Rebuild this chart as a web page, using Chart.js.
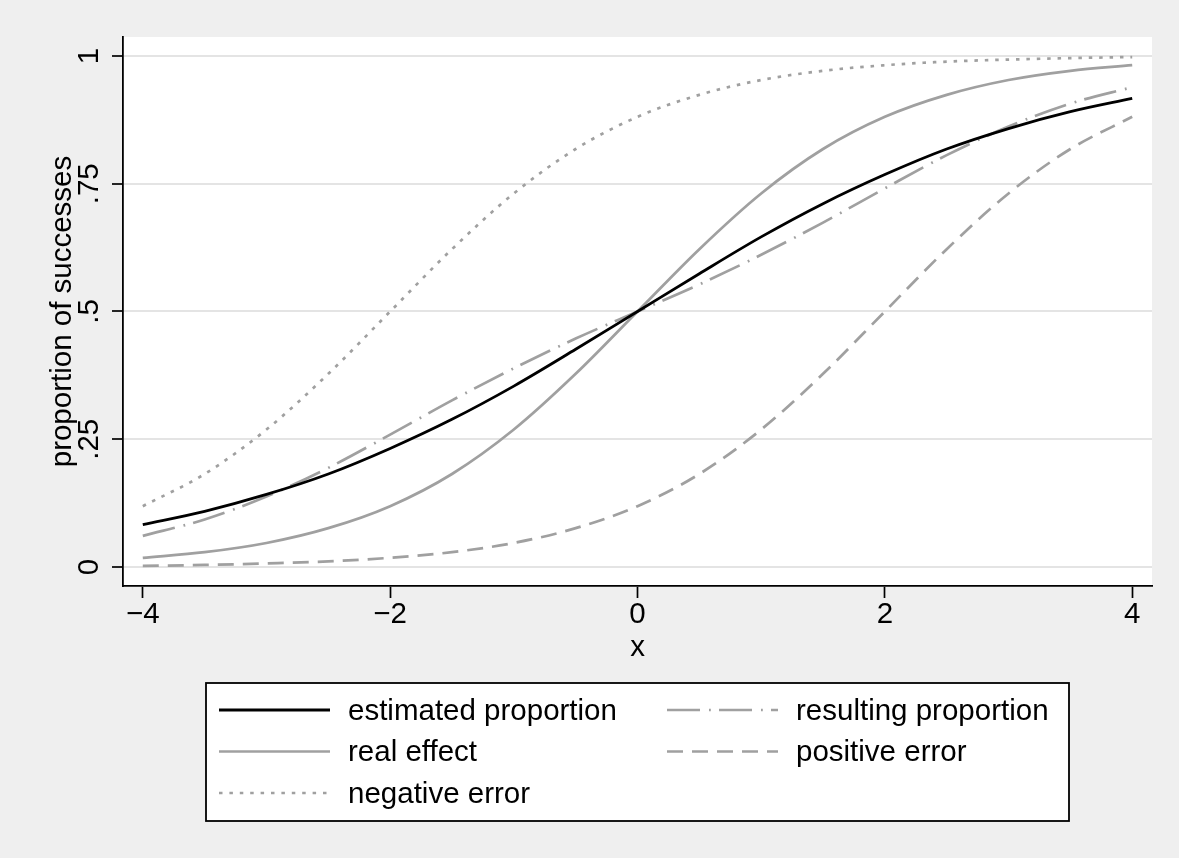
<!DOCTYPE html>
<html>
<head>
<meta charset="utf-8">
<script src="https://cdn.jsdelivr.net/npm/chart.js@4.4.1/dist/chart.umd.min.js"></script>
<style>
  html, body { margin: 0; padding: 0; background: #efefef; }
  #wrap { width: 1179px; height: 858px; position: relative; }
</style>
</head>
<body>
<div id="wrap"><canvas id="chart"></canvas></div>
<script>
/* ─────────────────────────────────────────────
   Data
───────────────────────────────────────────── */
const xValues = [-4, -3.5, -3, -2.5, -2, -1.5, -1, -0.5, 0, 0.5, 1, 1.5, 2, 2.5, 3, 3.5, 4];

const estimated     = [0.083, 0.109, 0.142, 0.182, 0.232, 0.289, 0.354, 0.426, 0.5, 0.574, 0.646, 0.711, 0.768, 0.818, 0.858, 0.891, 0.917];
const resulting     = [0.061, 0.093, 0.138, 0.194, 0.259, 0.326, 0.389, 0.447, 0.5, 0.553, 0.611, 0.674, 0.741, 0.806, 0.862, 0.907, 0.939];
const realEffect    = [0.018, 0.029, 0.047, 0.076, 0.119, 0.182, 0.269, 0.378, 0.5, 0.622, 0.731, 0.818, 0.881, 0.924, 0.953, 0.971, 0.982];
const positiveError = [0.002, 0.004, 0.007, 0.011, 0.018, 0.029, 0.047, 0.076, 0.119, 0.182, 0.269, 0.378, 0.5, 0.622, 0.731, 0.818, 0.881];
const negativeError = [0.119, 0.182, 0.269, 0.378, 0.5, 0.622, 0.731, 0.818, 0.881, 0.924, 0.953, 0.971, 0.982, 0.989, 0.993, 0.996, 0.998];

const seriesLabels = ['estimated proportion', 'resulting proportion', 'real effect', 'positive error', 'negative error'];

const xTicks = [-4, -2, 0, 2, 4];
const xTickLabels = ['\u22124', '\u22122', '0', '2', '4'];
const yTicks = [0, 0.25, 0.5, 0.75, 1];
const yTickLabels = ['0', '.25', '.5', '.75', '1'];

/* ─────────────────────────────────────────────
   Styles
───────────────────────────────────────────── */
const fontFamily = '"Liberation Sans", Arial, sans-serif';
const fontSize = 29.5;
const grey = '#a0a0a0';
const colors = {
  bg: '#efefef',
  plot: '#ffffff',
  grid: '#e4e4e4',
  axis: '#000000',
};

const lineStyles = [
  { color: '#000000', width: 2.8, dash: [] },
  { color: grey, width: 2.7, dash: [33, 9, 1.8, 8.2] },
  { color: grey, width: 2.7, dash: [] },
  { color: grey, width: 2.7, dash: [16, 9] },
  { color: grey, width: 2.7, dash: [3.5, 6.9] },
];

const toPoints = (ys) => xValues.map((x, i) => ({ x, y: ys[i] }));
const seriesData = [estimated, resulting, realEffect, positiveError, negativeError];

/* ─────────────────────────────────────────────
   Plugins
───────────────────────────────────────────── */
const plotBackground = {
  id: 'plotBackground',
  beforeDraw(chart) {
    const { ctx, chartArea: a } = chart;
    ctx.save();
    ctx.fillStyle = colors.bg;
    ctx.fillRect(0, 0, chart.width, chart.height);
    ctx.fillStyle = colors.plot;
    ctx.fillRect(a.left, a.top, a.right - a.left, a.bottom - a.top);
    ctx.restore();
  }
};

const legendBox = {
  id: 'legendBox',
  afterDraw(chart) {
    const { ctx } = chart;
    const box = { left: 206, top: 683, right: 1069, bottom: 821 };
    const colX = [219, 667];
    const lineLen = 111;
    const textGap = 18;
    const rowY = [710, 751.5, 793];
    ctx.save();
    ctx.fillStyle = '#ffffff';
    ctx.fillRect(box.left, box.top, box.right - box.left, box.bottom - box.top);
    ctx.strokeStyle = '#000';
    ctx.lineWidth = 1.8;
    ctx.strokeRect(box.left, box.top, box.right - box.left, box.bottom - box.top);

    ctx.font = fontSize + 'px ' + fontFamily;
    ctx.textBaseline = 'alphabetic';
    ctx.fillStyle = '#000';
    chart.data.datasets.forEach((ds, i) => {
      const x = colX[i % 2];
      const y = rowY[Math.floor(i / 2)];
      ctx.beginPath();
      ctx.setLineDash(ds.borderDash || []);
      ctx.strokeStyle = ds.borderColor;
      ctx.lineWidth = ds.borderWidth;
      ctx.moveTo(x, y);
      ctx.lineTo(x + lineLen, y);
      ctx.stroke();
      ctx.setLineDash([]);
      ctx.fillText(ds.label, x + lineLen + textGap, y + 9.5);
    });
    ctx.restore();
  }
};

/* ─────────────────────────────────────────────
   Chart
───────────────────────────────────────────── */
Chart.defaults.font.family = fontFamily;
Chart.defaults.font.size = fontSize;
Chart.defaults.color = '#000';

new Chart(document.getElementById('chart'), {
  type: 'line',
  data: {
    datasets: seriesData.map((ys, i) => ({
      label: seriesLabels[i],
      data: toPoints(ys),
      borderColor: lineStyles[i].color,
      borderWidth: lineStyles[i].width,
      borderDash: lineStyles[i].dash,
      pointRadius: 0,
      fill: false,
      cubicInterpolationMode: 'monotone',
    }))
  },
  options: {
    responsive: true,
    maintainAspectRatio: false,
    animation: false,
    layout: { padding: { top: 37, right: 27, bottom: 192, left: 0 } },
    plugins: {
      legend: { display: false },
      tooltip: { enabled: false },
    },
    scales: {
      x: {
        type: 'linear',
        min: -4.16,
        max: 4.16,
        afterBuildTicks: (s) => { s.ticks = xTicks.map(v => ({ value: v })); },
        afterFit: (s) => { s.height = 80; },
        ticks: {
          padding: -1,
          maxRotation: 0,
          callback: (v) => xTickLabels[xTicks.indexOf(v)],
        },
        grid: {
          drawOnChartArea: false,
          drawTicks: true,
          tickLength: 12,
          tickColor: colors.axis,
          tickWidth: 1.7,
        },
        border: { display: true, color: colors.axis, width: 1.8 },
        title: { display: true, text: 'x', padding: 0 },
      },
      y: {
        type: 'linear',
        min: -0.0372,
        max: 1.0372,
        afterBuildTicks: (s) => { s.ticks = yTicks.map(v => ({ value: v })); },
        afterFit: (s) => { s.width = 123; },
        ticks: {
          minRotation: 90,
          maxRotation: 90,
          crossAlign: 'center',
          padding: 2,
          callback: (v) => yTickLabels[yTicks.indexOf(v)],
        },
        grid: {
          color: colors.grid,
          lineWidth: 2,
          drawTicks: true,
          tickLength: 11,
          tickColor: colors.axis,
          tickWidth: 1.7,
        },
        border: { display: true, color: colors.axis, width: 1.8 },
        title: { display: true, text: 'proportion of successes', padding: { top: 45, bottom: 0 } },
      }
    }
  },
  plugins: [plotBackground, legendBox]
});
</script>
</body>
</html>
